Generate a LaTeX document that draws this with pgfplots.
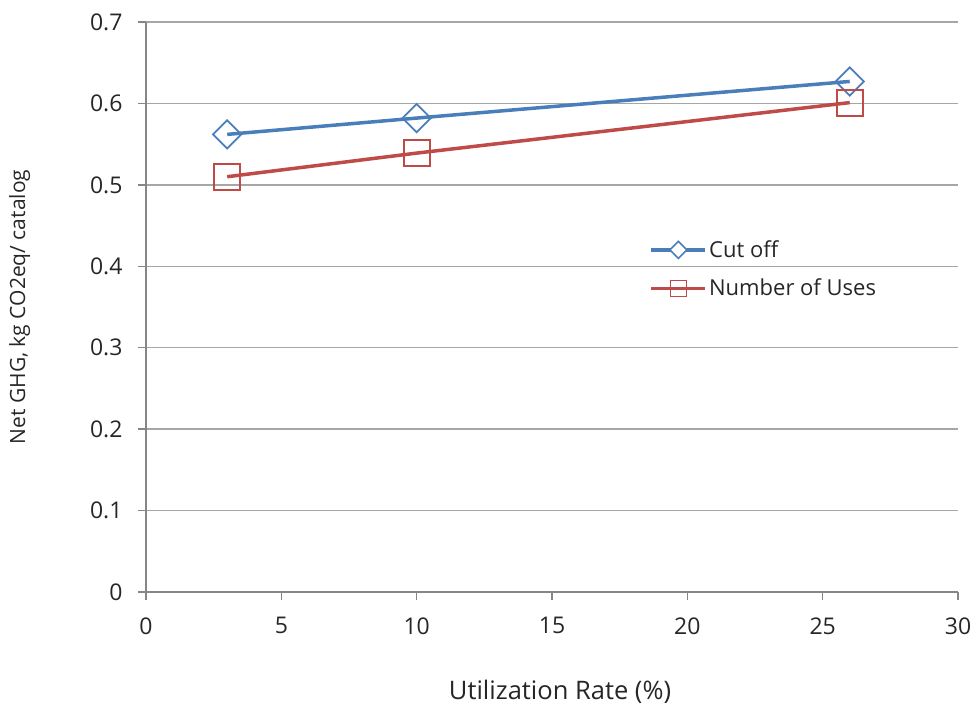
\documentclass[border=0pt]{standalone}
\usepackage{fontspec}
\setmainfont{Open Sans}
\usepackage{pgfplots}
\pgfplotsset{compat=1.18}
\definecolor{cblue}{HTML}{4A7EBB}
\definecolor{cred}{HTML}{BE4B48}
\definecolor{gridc}{HTML}{A6A6A6}
\definecolor{axc}{HTML}{868686}
\definecolor{txt}{HTML}{262626}
\begin{document}
\begin{tikzpicture}
\begin{axis}[
  scale only axis, width=812pt, height=570pt,
  xmin=0, xmax=30, ymin=0, ymax=0.7,
  xtick={0,5,...,30}, ytick={0,0.1,...,0.7},
  axis x line*=bottom, axis y line*=left,
  axis line style={axc, line width=1.5pt, -},
  tick style={axc, line width=1.5pt},
  tick align=outside, major tick length=8pt,
  ymajorgrids, grid style={gridc, line width=1.5pt},
  ticklabel style={font=\fontsize{23}{27}\selectfont, text=txt},
  /pgf/number format/assume math mode=true,
  yticklabel style={/pgf/number format/fixed, /pgf/number format/precision=1, xshift=-12pt},
  xticklabel style={yshift=-14pt},
  xlabel={Utilization Rate (\%)}, ylabel={Net GHG, kg CO2eq/ catalog},
  xlabel style={font=\fontsize{25.5}{29}\selectfont, text=txt, yshift=-39pt, xshift=8pt},
  ylabel style={font=\fontsize{21}{25}\selectfont, text=txt, yshift=53pt},
  legend style={draw=none, fill=none, at={(axis cs:18.6,0.434)}, anchor=north west, font=\fontsize{22}{26}\selectfont, row sep=16pt, text=txt, inner sep=0pt},
  legend cell align=left,
  clip=false,
]
\addplot[cblue, line width=3.5pt, mark=square, mark size=10pt, mark options={line width=1.8pt, fill=none, solid, rotate=45},
  legend image code/.code={\draw[cblue,line width=3.5pt](0pt,0pt)--(54pt,0pt); \draw[cblue,line width=1.6pt,fill=white] (18.5pt,0pt)--(27pt,8.5pt)--(35.5pt,0pt)--(27pt,-8.5pt)--cycle;}]
  coordinates {(3,0.562) (10,0.582) (26,0.627)};
\addlegendentry{Cut off}
\addplot[cred, line width=3.5pt, mark=square, mark size=13pt, mark options={line width=1.8pt, fill=none, solid},
  legend image code/.code={\draw[cred,line width=3.5pt](0pt,0pt)--(54pt,0pt); \draw[cred,line width=1.6pt] (19pt,-8pt) rectangle (35pt,8pt);}]
  coordinates {(3,0.510) (10,0.539) (26,0.601)};
\addlegendentry{Number of Uses}
\end{axis}
\pgfresetboundingbox
\path (current axis.south west) ++(-146pt,-113pt) coordinate (bl);
\path (current axis.north east) ++(16pt,22pt) coordinate (tr);
\path (bl) rectangle (tr);
\end{tikzpicture}
\end{document}
